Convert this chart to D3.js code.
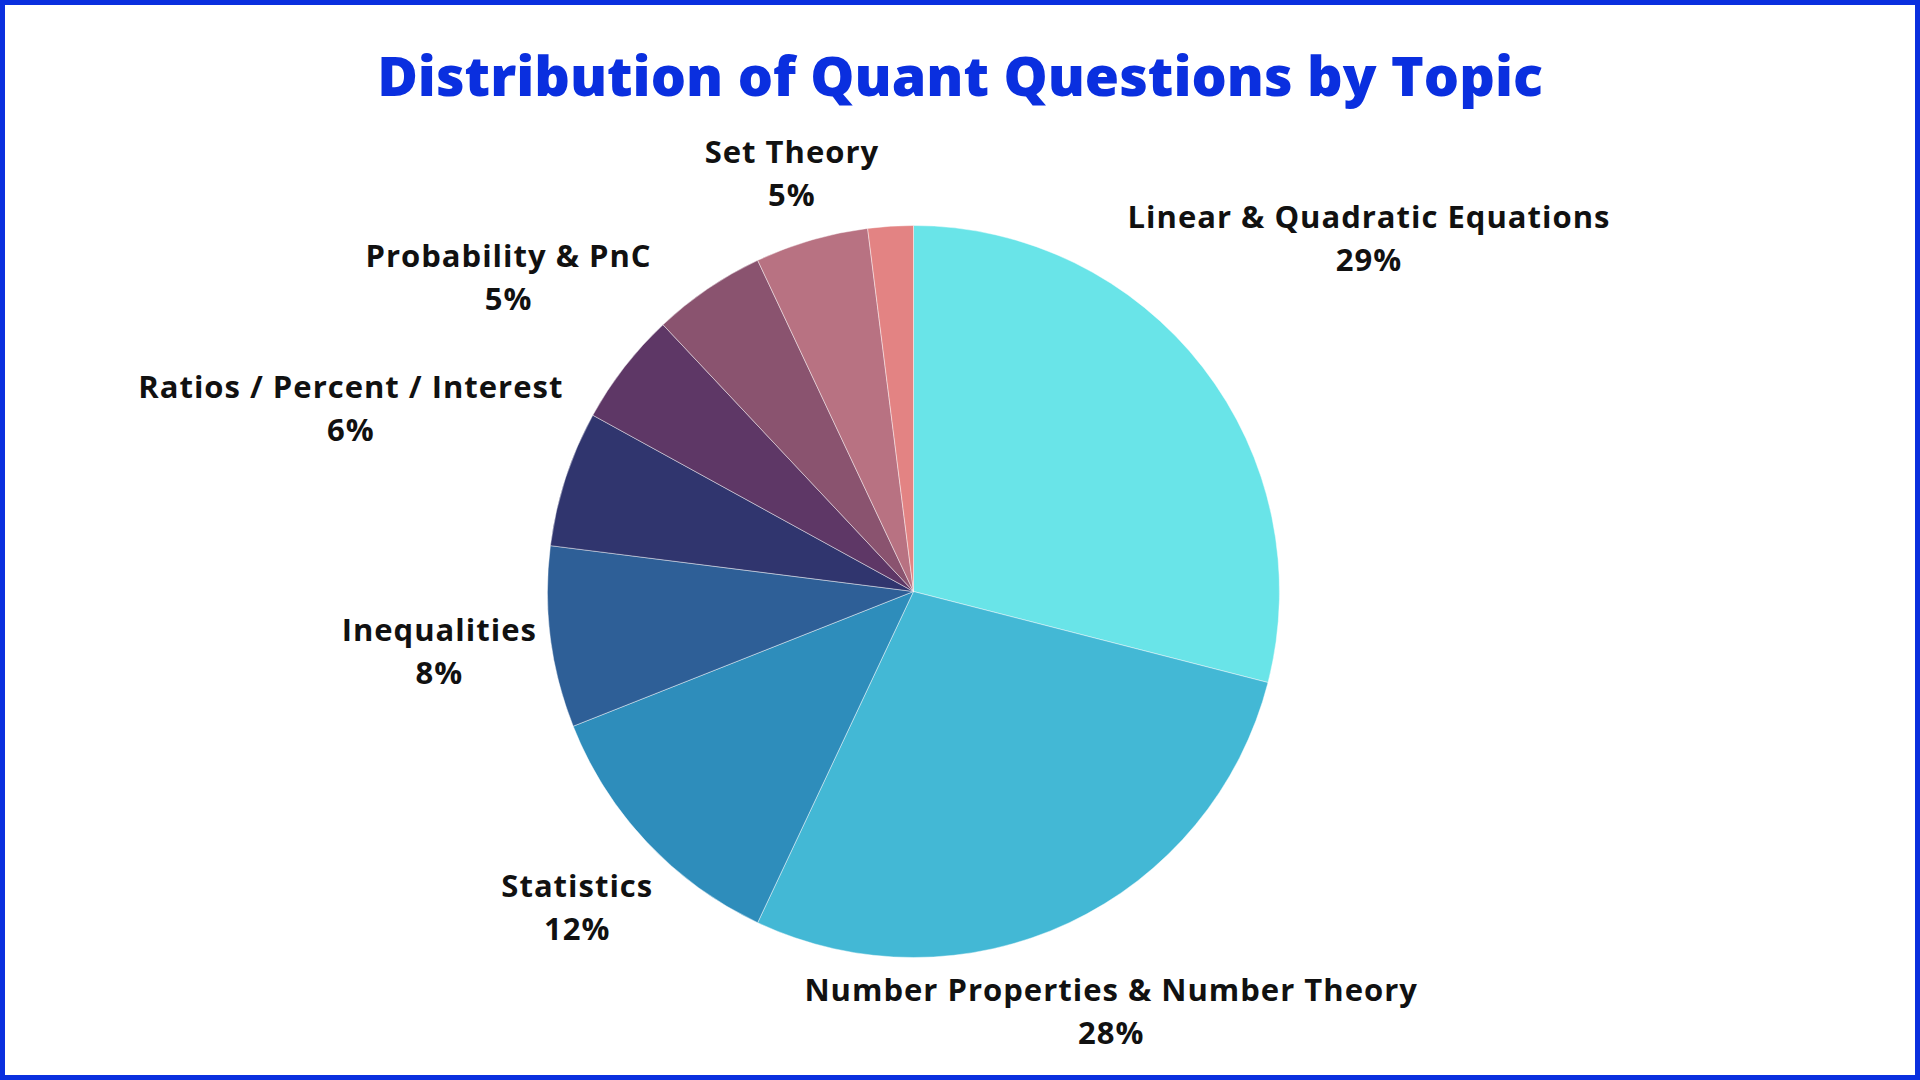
<!DOCTYPE html>
<html>
<head>
<meta charset="utf-8">
<script src="https://cdn.jsdelivr.net/npm/d3@7"></script>
<style>
  html, body { margin: 0; padding: 0; background: #ffffff; }
  svg { display: block; }
</style>
</head>
<body>
<svg id="chart" width="1920" height="1080"></svg>
<script>
// ---- data ----
const titleText = "Distribution of Quant Questions by Topic";
const categories = [
  "Linear & Quadratic Equations",
  "Number Properties & Number Theory",
  "Statistics",
  "Inequalities",
  "Ratios / Percent / Interest",
  "Probability & PnC",
  "Unlabeled A",
  "Set Theory",
  "Unlabeled B"
];
const values = [29, 28, 12, 8, 6, 5, 5, 5, 2];
const showLabel = [true, true, true, true, true, true, false, true, false];
const colors = ["#69e4e8", "#43b8d5", "#2e8dbb", "#2e5f97", "#30356e", "#5e3766", "#8a536f", "#b87282", "#e38383"];

// ---- layout ----
const W = 1920, H = 1080;
const cx = 913.5, cy = 591.5, R = 366;
const labelGap = 11;
const fontFamily = "'Open Sans', 'Liberation Sans', sans-serif";

const svg = d3.select("#chart");

svg.append("rect").attr("x", 0).attr("y", 0).attr("width", W).attr("height", H).attr("fill", "#ffffff");

svg.append("rect")
  .attr("x", 2.5).attr("y", 2.5).attr("width", W - 5).attr("height", H - 5)
  .attr("fill", "none").attr("stroke", "#0a2fdf").attr("stroke-width", 5);

svg.append("text")
  .attr("x", W / 2).attr("y", 96)
  .attr("text-anchor", "middle")
  .attr("font-family", fontFamily)
  .attr("font-weight", 800)
  .attr("font-size", 55.5)
  .attr("fill", "#0a2fdf")
  .text(titleText);

const data = categories.map((c, i) => ({ name: c, value: values[i], color: colors[i], show: showLabel[i] }));

const pie = d3.pie().sort(null).value(d => d.value);
const arcs = pie(data);
const arc = d3.arc().innerRadius(0).outerRadius(R);

const g = svg.append("g").attr("transform", `translate(${cx},${cy})`);

g.selectAll("path.slice")
  .data(arcs)
  .join("path")
  .attr("class", "slice")
  .attr("d", arc)
  .attr("fill", d => d.data.color)
  .attr("stroke", "rgba(255,255,255,0.55)")
  .attr("stroke-width", 0.8);

// labels: centered on the mid-angle ray, pushed out until the box clears the pie by labelGap
function boxDist(x, y, w, h) {
  const dx = Math.max(Math.abs(x) - w / 2, 0);
  const dy = Math.max(Math.abs(y) - h / 2, 0);
  return Math.sqrt(dx * dx + dy * dy);
}

const lineGap = 43;
arcs.filter(d => d.data.show).forEach(d => {
  const lg = g.append("g");
  const t = lg.append("text")
    .attr("text-anchor", "middle")
    .attr("font-family", fontFamily)
    .attr("font-weight", 700)
    .attr("font-size", 31)
    .attr("letter-spacing", 1)
    .attr("fill", "#111111");
  t.append("tspan").attr("x", 0).attr("y", -lineGap / 2 + 11).text(d.data.name);
  t.append("tspan").attr("x", 0).attr("y", lineGap / 2 + 11).text(d.data.value + "%");
  const bb = t.node().getBBox();
  const w = bb.width, h = lineGap + 43;
  const a = (d.startAngle + d.endAngle) / 2;
  const ux = Math.sin(a), uy = -Math.cos(a);
  let lo = 0, hi = 2000;
  for (let k = 0; k < 60; k++) {
    const mid = (lo + hi) / 2;
    if (boxDist(ux * mid, uy * mid, w, h) < R + labelGap) lo = mid; else hi = mid;
  }
  lg.attr("transform", `translate(${ux * hi},${uy * hi})`);
});
</script>
</body>
</html>
